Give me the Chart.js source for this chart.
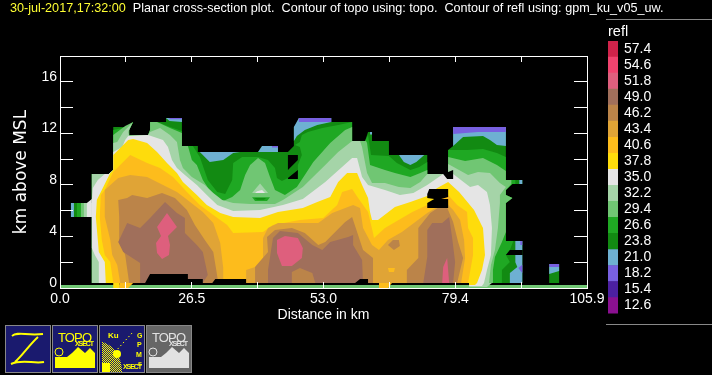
<!DOCTYPE html>
<html>
<head>
<meta charset="utf-8">
<script src="https://cdn.jsdelivr.net/npm/chart.js@4"></script>
<style>
  body { margin: 0; background: #000; width: 712px; height: 375px; overflow: hidden; position: relative; }
  canvas { position: absolute; }
  #title { position: absolute; left: 10px; top: 0; color: #fff; font: 12.64px "Liberation Sans"; white-space: pre; line-height: 16px; }
  #title span { color: #ffff33; }
  #refl { position: absolute; left: 608px; top: 23px; color: #fff; font: 14.5px "Liberation Sans"; }
  .rule { position: absolute; left: 606px; width: 106px; height: 1px; background: #888; }
  #icons { position: absolute; left: 0; top: 320px; }
</style>
</head>
<body>
<canvas id="myChart" width="712" height="375" style="left:0;top:0"></canvas>
<canvas id="scaleBar" width="60" height="308" style="left:600px;top:20px"></canvas>
<div id="title"><span>30-jul-2017,17:32:00</span>  Planar cross-section plot.  Contour of topo using: topo.  Contour of refl using: gpm_ku_v05_uw.</div>
<div id="refl">refl</div>
<div class="rule" style="top:19px"></div>
<div class="rule" style="top:324px"></div>
<svg id="icons" width="200" height="55" font-family="Liberation Sans">
  <defs>
    <pattern id="dither" width="2" height="2" patternUnits="userSpaceOnUse">
      <rect width="1" height="1" fill="#ffff00"/>
      <rect x="1" y="1" width="1" height="1" fill="#ffff00"/>
    </pattern>
  </defs>
  <g stroke="#888" stroke-width="1">
    <rect x="5.5" y="5.5" width="45" height="47" fill="#1a1a6e"/>
    <rect x="52.5" y="5.5" width="45" height="47" fill="#1a1a6e"/>
    <rect x="99.5" y="5.5" width="45" height="47" fill="#1a1a6e"/>
    <rect x="146.5" y="5.5" width="45" height="47" fill="#666"/>
  </g>
  <path d="M12 16 C18 11 26 16 43 14 M38 17 C30 24 22 36 15 42 M11 44 C22 39 34 44 44 42" fill="none" stroke="#ffff00" stroke-width="2"/>
  <g fill="#ffff00">
    <text x="58" y="22" font-size="13" textLength="34">TOPO</text>
    <text x="75" y="26" font-size="7" font-weight="bold" textLength="19">XSECT</text>
    <polygon points="55,48 55,37 67,37 72,33 78,27 85,33 90,28 95,33 95,48"/>
    <circle cx="59" cy="32" r="4" fill="#1a1a6e" stroke="#ffff00"/>
    <text x="108" y="18" font-size="8" font-weight="bold">Ku</text>
    <text x="137" y="18" font-size="7" font-weight="bold">G</text>
    <text x="137" y="27" font-size="7" font-weight="bold">P</text>
    <text x="136" y="37" font-size="7" font-weight="bold">M</text>
    <text x="138" y="46" font-size="6" font-weight="bold">S</text>
    <text x="123" y="49" font-size="7" font-weight="bold" textLength="19">XSECT</text>
    <path d="M102 52 V22 C112 24 122 36 122 52 Z" fill="url(#dither)"/>
    <circle cx="117" cy="34" r="4"/>
    <rect x="102" y="43" width="8" height="9"/>
    <path d="M115 32 L133 12" fill="none" stroke="#ffff00" stroke-dasharray="1.5 2.5"/>
  </g>
  <g fill="#e2e2e2">
    <text x="152" y="22" font-size="13" textLength="34">TOPO</text>
    <text x="169" y="26" font-size="7" font-weight="bold" textLength="19">XSECT</text>
    <polygon points="149,48 149,37 161,37 166,33 172,27 179,33 184,28 189,33 189,48"/>
    <circle cx="153" cy="32" r="4" fill="#666" stroke="#e2e2e2"/>
  </g>
</svg>
<script>
const legendLevels = [57.4, 54.6, 51.8, 49.0, 46.2, 43.4, 40.6, 37.8, 35.0, 32.2, 29.4, 26.6, 23.8, 21.0, 18.2, 15.4, 12.6];
const legendColors = ["#d0234a", "#f0436e", "#de5f7d", "#a06f5b", "#bb8449", "#e0a436", "#fdbc1c", "#fedc0c", "#e5e5e5", "#a5d4a8", "#70c673", "#1fa823", "#128a12", "#6eb0d2", "#7860e0", "#4c20a0", "#8a1090"];

const xTicks = [0, 13.2375, 26.475, 39.7125, 52.95, 66.1875, 79.425, 92.6625, 105.9];
const xLabels = ["0.0", "", "26.5", "", "53.0", "", "79.4", "", "105.9"];
const yTicks = [0, 2, 4, 6, 8, 10, 12, 14, 16, 18];
const yLabels = ["0", "", "4", "", "8", "", "12", "", "16", ""];

// topography strip along the ground, km
const topo = [[0, 0.12], [105.9, 0.12]];

// contours of refl: [distance km, height km], each level painted over the one below
const level_23_8 = [
  [[6.4,.39],[6.4,8.85],[9.8,8.85],[10.7,9.16],[10.7,12.49],[13.5,12.49],[14.7,12.88],[13.9,12.26],[13.9,11.87],[17.7,11.87],[18.1,12.26],[18.1,12.88],[21.1,12.88],[21.3,13.19],[24.5,13.19],[24.5,11.02],[27.7,11.02],[27.7,10.55],[39.8,10.55],[40.6,11.02],[43.8,11.02],[43.8,10.55],[45.8,10.55],[47,11.02],[47,12.49],[48,12.88],[48,13.19],[54.5,13.19],[54.5,12.88],[58.7,12.88],[58.7,11.41],[61.3,11.41],[61.9,12.11],[62.7,12.11],[62.7,11.41],[66.1,11.41],[66.1,10.32],[73.8,10.32],[73.8,8.85],[78,8.85],[78,10.71],[79,11.02],[79,12.49],[89.6,12.49],[89.6,8.38],[92.9,8.38],[92.9,8.07],[90.9,8.07],[89.6,7.6],[89.6,7.22],[90.9,6.98],[89.6,6.6],[89.6,3.65],[92.9,3.65],[92.9,.39]],
  [[2.2,6.6],[6.4,6.6],[6.4,5.51],[2.2,5.51]],
  [[98.3,1.86],[100.3,1.86],[100.3,.39],[98.3,.39]]
];
const level_21_0 = [
  [[28.1,10.55],[36.2,10.55],[34.8,10.48],[32.8,9.93],[30.1,9.78]],
  [[39.8,10.55],[40.6,11.02],[43.8,11.02],[43.8,10.55]],
  [[47,12.49],[48,13.19],[54.5,13.19],[54.5,12.88],[51.7,12.65],[49.2,12.26],[47.6,11.8],[47,11.41]],
  [[68.1,10.32],[73.2,10.32],[71.6,9.78],[70.4,9.54],[69.1,9.78]],
  [[79,12.49],[89.6,12.49],[89.6,11.02],[87.8,11.1],[86.4,11.48],[85,11.8],[81,11.72],[79,11.02]],
  [[62.3,12.11],[62.7,12.11],[62.7,11.9],[62.3,11.9]],
  [[21.3,13.19],[24.5,13.19],[24.5,12.88],[22,12.96]],
  [[92.3,8.38],[92.9,8.38],[92.9,8.07],[92.3,8.07]],
  [[91.5,3.65],[92.9,3.65],[92.9,2.95],[91.5,2.95]],
  [[91.5,2.56],[92.9,2.56],[92.9,.39],[90.4,.39],[90.4,1.16],[91.9,1.63],[91.5,2]],
  [[98.3,1.63],[100.3,1.63],[100.3,1.32],[98.3,1.09]],
  [[2.2,6.6],[2.8,6.6],[2.8,5.51],[2.2,5.51]]
];
const level_18_2 = [
  [[48,13.19],[54.5,13.19],[54.5,12.88],[48,12.88]],
  [[79,12.49],[89.6,12.49],[89.6,12.1],[84,12.1],[79,11.95]],
  [[22,13.19],[24.5,13.19],[24.5,13.1],[22,13.1]],
  [[42.6,11.02],[43.8,11.02],[43.8,10.9],[42.6,10.9]],
  [[92.5,3.65],[92.9,3.65],[92.9,3.34],[92.5,3.34]],
  [[92.1,1.55],[92.9,1.8],[92.9,1.16]],
  [[98.3,1.86],[100.3,1.86],[100.3,1.63],[98.3,1.63]]
];
const level_26_6 = [
  [[6.4,.39],[6.4,8.85],[9.8,8.85],[10.7,9.16],[10.7,12.26],[13.5,12.49],[14.7,12.88],[13.9,12.26],[13.9,11.87],[17.7,11.87],[18.1,12.26],[18.1,12.8],[20.1,12.8],[22.1,12.49],[24.5,12.18],[24.5,11.02],[26.7,11.02],[28.1,10.17],[29.7,8.38],[31.6,7.45],[33.2,7.29],[34.6,8.38],[34.8,9.7],[36.6,10.17],[39.8,10.17],[41.8,9.93],[43.2,9.31],[43.6,8.54],[44.6,8.3],[45.8,8.54],[47.8,8.77],[47.8,9.54],[48.6,10.32],[48.2,10.94],[47.2,11.1],[48.2,11.33],[48.6,11.87],[49.8,12.11],[52.7,12.42],[55.9,12.65],[58.7,12.88],[58.7,11.41],[61.3,11.41],[61.9,11.87],[62.5,10.32],[66.1,10.24],[67.7,9.7],[70.4,9.16],[72.2,9.39],[73.8,9.78],[73.8,8.85],[78,8.85],[78,10.71],[81.8,10.71],[85,10.79],[87.8,10.48],[89.6,10.17],[89.6,8.38],[91.5,8.38],[91.5,8.07],[90.9,8.07],[89.6,7.6],[89.6,7.22],[90.9,6.98],[89.6,6.6],[89.6,3.65],[91.1,3.65],[90.4,2.95],[89.6,2.56],[90.4,2.02],[88.8,1.4],[88.8,.39]],
  [[3.4,6.6],[6.4,6.6],[6.4,5.51],[3.4,5.51]]
];
const level_29_4 = [
  [[6.4,.39],[6.4,8.85],[9.8,8.85],[10.7,9.16],[10.7,11.87],[13.1,12.57],[14.7,12.88],[13.9,12.26],[13.9,11.87],[17.7,11.87],[18.1,12.26],[18.1,12.88],[19.5,12.88],[22.1,12.42],[24.5,12.03],[24.5,11.02],[25.7,11.02],[26.5,9.93],[27.5,9.54],[28.7,8.38],[29.5,7.92],[30.8,7.06],[32.8,6.75],[34.6,7.06],[36.2,7.6],[37.2,8.77],[38.2,9.54],[39.8,10.09],[41.2,9.7],[42.2,8.61],[43.2,7.6],[45.2,7.22],[47.6,7.84],[49.2,8.77],[50.9,9.78],[54.3,11.25],[57.3,12.26],[58.7,12.49],[58.7,11.41],[61.5,11.41],[61.7,11.25],[62.3,9.54],[65.3,9.16],[67.3,8.92],[70.4,8.61],[72.4,8.92],[73.8,9.16],[73.8,8.85],[78,8.85],[78,10.17],[81.4,9.86],[85,10.09],[87.8,9.54],[89.6,9.08],[89.6,8.38],[90.7,8.38],[90.7,8.07],[89.6,7.6],[89.6,7.22],[90.9,6.98],[89.6,6.6],[89.6,4.35],[88.8,3.57],[87.4,2.41],[87,1.4],[87,.39]],
  [[4.2,6.6],[6.4,6.6],[6.4,5.51],[4.2,5.51]]
];
const level_32_2 = [
  [[6.4,.39],[6.4,8.85],[9.8,8.85],[10.7,9.16],[10.7,11.25],[11.5,11.33],[12.7,12.11],[14.5,12.8],[13.7,12.11],[13.9,11.8],[17.7,11.87],[18.1,12.11],[20.1,12.42],[22.1,11.87],[23.5,11.33],[24.1,9.93],[24.7,9.31],[26.5,8.61],[29.1,7.99],[30.8,7.37],[32.6,6.83],[34.8,6.6],[38.2,6.52],[43.2,6.52],[44.8,6.83],[48.8,7.84],[53.3,9.54],[55.9,10.55],[58.7,11.41],[60.3,11.41],[60.7,10.94],[61.7,8.92],[62.7,8.15],[65.3,8.15],[68.1,7.84],[70.4,7.76],[72.4,8.23],[73.8,8.85],[78,8.85],[78,9.62],[82,8.77],[84,9],[86.4,8.92],[88.4,8.15],[89.6,7.84],[88.4,7.22],[88.4,6.6],[88,4.66],[87.4,2.95],[86.6,1.78],[86.2,.39]],
  [[4.8,6.6],[6.4,6.6],[6.4,5.51],[4.8,5.51]],
  [[40.2,8.1],[38.6,7.37],[41.8,7.37]],
  [[82.2,.39],[86.8,.39],[85.8,.08],[82.2,.08]]
];
const level_35_0 = [
  [[7.8,.39],[7.8,2.02],[7,2.56],[6.4,3.1],[6.4,6.83],[6.6,7.76],[7.6,8.38],[9,8.85],[9.8,8.85],[10.7,9.16],[10.7,10.55],[12.5,10.94],[13.1,11.48],[13.7,11.8],[17.7,11.87],[20.7,11.48],[21.7,10.94],[22.5,9.93],[23.5,9.31],[25.1,8.77],[27.5,7.99],[29.5,7.22],[31.6,6.44],[34.8,5.98],[40.2,6.05],[44.8,6.44],[48.8,6.91],[53.3,8.23],[58.7,10.09],[59.7,10.09],[60.7,8.61],[61.9,7.99],[65.3,7.6],[68.3,7.22],[71,7.37],[73.8,7.99],[77,8.85],[79,8.85],[82.4,7.84],[84,7.99],[85.8,7.45],[86.4,6.44],[86.8,4.66],[86.6,2.56],[85.8,1.4],[85.2,.39]],
  [[5.4,6.6],[6.4,6.91],[6.4,5.51],[5.4,5.51]],
  [[82.2,.39],[85.2,.39],[84.8,.16],[82.2,.16]]
];
const level_37_8 = [
  [[9.2,.39],[9,2.02],[7.8,2.79],[7.6,3.72],[7.2,5.51],[7.4,6.83],[8.4,7.6],[10.1,8.92],[10.7,9.16],[10.7,10.32],[13.7,11.48],[14.7,11.56],[17.5,11.25],[19.5,10.55],[21.5,9.7],[23.5,8.92],[24.7,8.23],[27.5,7.22],[29.5,6.44],[32.2,5.82],[34.8,5.51],[40.2,5.43],[43.8,5.9],[48.8,6.21],[51.7,6.67],[54.3,7.06],[55.9,8.23],[57.7,8.92],[59.7,8.92],[60.7,7.99],[61.9,6.98],[62.3,5.9],[62.7,5.28],[63.9,5.28],[67.3,6.29],[70.4,6.67],[73.8,7.14],[75.8,7.76],[78,8.23],[80.2,7.45],[83.2,6.05],[85,4.66],[85.4,2.56],[84.8,1.4],[83.8,.39]],
  [[10.7,.39],[11.9,.39],[11.9,0],[10.7,0]],
  [[82.2,.39],[83.8,.39],[83.4,.23],[82.2,.23]]
];
const level_40_6 = [
  [[10.7,.39],[10.1,2.02],[9,2.56],[8.4,3.72],[8,5.51],[8.2,7.22],[9,7.6],[10.7,9],[14.1,10.32],[17.5,9.7],[20.1,9.31],[22.7,8.61],[25.5,7.45],[28.1,6.44],[30.8,5.66],[33.6,4.89],[34.8,4.27],[40.8,4.35],[42.8,4.89],[48.2,5.28],[52.9,5.43],[55.7,6.44],[56.7,7.45],[58.7,7.68],[59.9,6.98],[60.9,6.44],[61.9,5.9],[62.9,4.27],[63.1,3.88],[65.3,4.66],[70.8,5.9],[73.8,6.44],[75.8,7.06],[78,7.22],[79.8,6.44],[81.8,5.9],[82,4.66],[83,3.88],[83,2.56],[82,.39]],
  [[11.9,.39],[14.7,.39],[13.7,0],[11.9,0]],
  [[64.1,.39],[66.7,.39],[65.9,0],[64.1,0]]
];
const level_43_4 = [
  [[12.1,.39],[11.5,1.78],[10.5,2.56],[10.1,3.72],[9,5.51],[9,7.6],[11.7,8.54],[14.1,8.77],[17.5,8.61],[20.7,7.99],[23.5,7.45],[25.1,6.98],[28.7,5.9],[30.8,5.04],[32.2,3.49],[32.8,1.55],[32.8,.39],[37.4,.39],[37.4,1.4],[39.2,1.63],[40.8,2.33],[40.8,3.88],[41.8,4.66],[43.8,5.04],[51.9,5.04],[54.7,5.82],[58.9,6.44],[60.3,6.21],[60.9,4.66],[62.7,3.34],[64.1,2.95],[65.9,3.72],[68.7,4.35],[71.4,5.12],[73.8,5.82],[77.4,6.67],[79,6.05],[80.4,5.28],[81.2,3.72],[81.4,2.33],[80.6,.39]]
];
const level_46_2 = [
  [[13.9,.39],[13.1,2.56],[11.9,3.72],[11.9,5.51],[11.7,6.83],[13.5,6.98],[14.5,7.22],[17.5,6.98],[20.5,7.37],[23.1,6.98],[25.5,6.05],[27.1,4.89],[29.1,3.72],[30.8,2.79],[31.4,1.4],[31.8,.39]],
  [[39.2,.39],[39.2,1.63],[41.8,2.79],[41.6,3.96],[43.2,4.5],[46.6,4.66],[49.2,4.27],[51.9,3.34],[53.3,3.57],[57.3,5.12],[58.7,5.51],[59.9,4.11],[60.9,2.95],[62.9,2.33],[62.9,.39]],
  [[65.9,3.34],[66.9,3.72],[68.1,3.72],[68.3,3.26],[67.1,2.95]],
  [[69.7,.39],[69.7,1.4],[72,2.33],[72,4.66],[74.4,5.82],[77.4,6.6],[79,5.12],[80,3.57],[81,2.33],[79.8,.39]]
];
const level_49_0 = [
  [[11.7,3.57],[13.5,5.04],[16.1,4.66],[18.1,5.43],[21.1,6.67],[23.5,5.82],[25.1,5.43],[25.1,4.27],[27.5,3.34],[28.7,2.79],[29.7,1.01],[28.7,.39],[16.1,.39],[16.1,1.94],[12.7,2.79]],
  [[41.8,.39],[41.8,1.4],[42.8,3.88],[44.2,4.42],[47.8,4.27],[50.7,3.34],[52.7,2.95],[54.3,3.57],[57.9,3.96],[58.9,4.11],[58.9,3.34],[60.7,2.17],[60.9,.39]],
  [[73,.39],[73.8,2.41],[73.8,4.5],[74.8,5.04],[76.8,5.04],[78.2,5.51],[78.8,3.88],[79.4,2.02],[79,.39]]
];
const level_51_8 = [
  [[21.5,5.82],[23.5,4.73],[21.7,4.04],[22.1,3.34],[21.9,2.56],[20.5,2.25],[19.5,2.72],[19.3,3.49],[20.3,4.04],[19.5,4.73]],
  [[43.6,3.72],[45.2,4.04],[47.8,3.88],[48.8,3.1],[48.6,2.33],[46.6,1.71],[44.6,1.71],[43.6,2.72]],
  [[76.8,.39],[77,1.63],[77.8,2.33],[78.2,.39]]
];
// small pockets of weaker echo inside the stronger bands
const pocket_26_6 = [[[38.6,7.05],[42.2,7.05],[41.6,6.75],[39.2,6.75]]];
const pocket_23_8 = [[[39,6.98],[41.4,6.98],[41,6.85],[39.6,6.85]]];
const pocket_35_0 = [[[39.6,7.5],[40.6,7.6],[41.2,7.37],[39.2,7.37]]];
const pocket_40_6 = [[[65.9,1.55],[67.3,1.55],[67.1,1.24],[66.1,1.24]]];
const pocket_46_2 = [[[46.6,.39],[46.6,1.24],[48.2,1.55],[50.7,1.16],[51.3,.39]]];
// no data
const noData = [
  [[17.1,.39],[18.1,1.09],[25.7,1.09],[25.7,.7],[28.7,.7],[28.7,.39]],
  [[30.6,.39],[31.2,.7],[37.4,.7],[37.4,.39]],
  [[59.3,.39],[60.3,.7],[61.9,.7],[61.9,.39]],
  [[45.8,10.32],[47.8,10.32],[47.8,9.93],[45.8,9.16]],
  [[45.8,8.54],[47.8,9.16],[47.8,8.46],[45.8,8.46]],
  [[74.2,7.68],[78,7.68],[78,7.06],[76.6,6.91],[78,6.91],[78,6.21],[73.8,6.21],[73.8,6.6],[75.2,6.91],[73.8,6.98],[73.8,7.29]],
  [[77,8.85],[79,9.16],[79,8.46],[77.8,8.46]],
  [[90.4,2.95],[92.9,2.95],[92.9,2.56],[89.6,2.56]]
];

function colorOf(level) {
  return legendColors[legendLevels.indexOf(level)];
}

const paintList = [
  [level_23_8, colorOf(23.8)], [level_21_0, colorOf(21.0)], [level_18_2, colorOf(18.2)],
  [level_26_6, colorOf(26.6)], [level_29_4, colorOf(29.4)], [level_32_2, colorOf(32.2)],
  [level_35_0, colorOf(35.0)], [level_37_8, colorOf(37.8)], [level_40_6, colorOf(40.6)],
  [level_43_4, colorOf(43.4)], [level_46_2, colorOf(46.2)], [level_49_0, colorOf(49.0)],
  [level_51_8, colorOf(51.8)], [pocket_26_6, colorOf(26.6)], [pocket_23_8, colorOf(23.8)],
  [pocket_35_0, colorOf(35.0)], [pocket_40_6, colorOf(40.6)], [pocket_46_2, colorOf(46.2)],
  [noData, "#000"]
];

let datasets = [{
  data: topo.map(p => ({ x: p[0], y: p[1] })),
  showLine: true, fill: false, borderColor: colorOf(29.4), borderWidth: 3, pointRadius: 0
}];
for (let i = 0; i < paintList.length; i++) {
  for (let poly of paintList[i][0]) {
    datasets.push({
      data: poly.map(p => ({ x: p[0], y: p[1] })),
      showLine: true, fill: "shape", backgroundColor: paintList[i][1],
      borderWidth: 0, pointRadius: 0, tension: 0
    });
  }
}
// first dataset is drawn on top, so turn the paint order round
datasets.forEach((d, i) => { d.order = datasets.length - i; });

const numFont = { family: "Liberation Sans", size: 14 };

function lineGrid(len) {
  return { display: true, color: "#fff", drawOnChartArea: false, tickLength: len, z: 1 };
}

new Chart("myChart", {
  type: "scatter",
  data: { datasets: datasets },
  options: {
    responsive: false,
    animation: false,
    layout: { padding: 0, autoPadding: false },
    plugins: { legend: { display: false }, tooltip: { enabled: false } },
    scales: {
      x: {
        type: "linear", position: "bottom", min: 0, max: 105.9,
        afterBuildTicks: s => { s.ticks = xTicks.map(v => ({ value: v })); },
        afterFit: s => { s.height = 87; },
        border: { color: "#fff", z: 1 },
        grid: lineGrid(-6),
        ticks: {
          color: "#fff", font: numFont, autoSkip: false, maxRotation: 0, padding: 9,
          callback: (v, i) => xLabels[i]
        },
        title: { display: true, text: "Distance in km", color: "#fff", font: { family: "Liberation Sans", size: 14 }, padding: { bottom: 51 } }
      },
      xTop: {
        type: "linear", position: "top", min: 0, max: 105.9,
        afterBuildTicks: s => { s.ticks = xTicks.map(v => ({ value: v })); },
        afterFit: s => { s.height = 56; },
        border: { color: "#fff", z: 1 },
        grid: lineGrid(-6),
        ticks: { display: false }
      },
      y: {
        type: "linear", position: "left", min: 0, max: 18,
        afterBuildTicks: s => { s.ticks = yTicks.map(v => ({ value: v })); },
        afterFit: s => { s.width = 60; },
        border: { color: "#fff", z: 1 },
        grid: lineGrid(-13),
        ticks: {
          color: "#fff", font: { family: "Liberation Sans", size: 14, lineHeight: "10px" }, autoSkip: false, padding: 16,
          // second empty line lifts the number above its tick
          callback: (v, i) => [yLabels[i], ""]
        },
        title: { display: true, text: "km above MSL", color: "#fff", font: { family: "DejaVu Sans", size: 17 }, padding: { top: 11 } }
      },
      yRight: {
        type: "linear", position: "right", min: 0, max: 18,
        afterBuildTicks: s => { s.ticks = yTicks.map(v => ({ value: v })); },
        afterFit: s => { s.width = 125; },
        border: { color: "#fff", z: 1 },
        grid: lineGrid(-13),
        ticks: { display: false }
      }
    }
  }
});

new Chart("scaleBar", {
  type: "bar",
  data: {
    labels: legendLevels.map(v => v.toFixed(1)),
    datasets: [{ data: legendLevels.map(() => 1), backgroundColor: legendColors, barPercentage: 1, categoryPercentage: 1 }]
  },
  options: {
    indexAxis: "y",
    responsive: false,
    animation: false,
    layout: { padding: { left: 8, top: 21, bottom: 7 }, autoPadding: false },
    plugins: { legend: { display: false }, tooltip: { enabled: false } },
    scales: {
      x: { display: false, min: 0, max: 1 },
      y: {
        position: "right",
        afterFit: s => { s.width = 42; },
        border: { display: false },
        grid: { display: false, drawTicks: false },
        ticks: { color: "#fff", font: numFont, padding: 6, autoSkip: false }
      }
    }
  }
});
</script>
</body>
</html>
